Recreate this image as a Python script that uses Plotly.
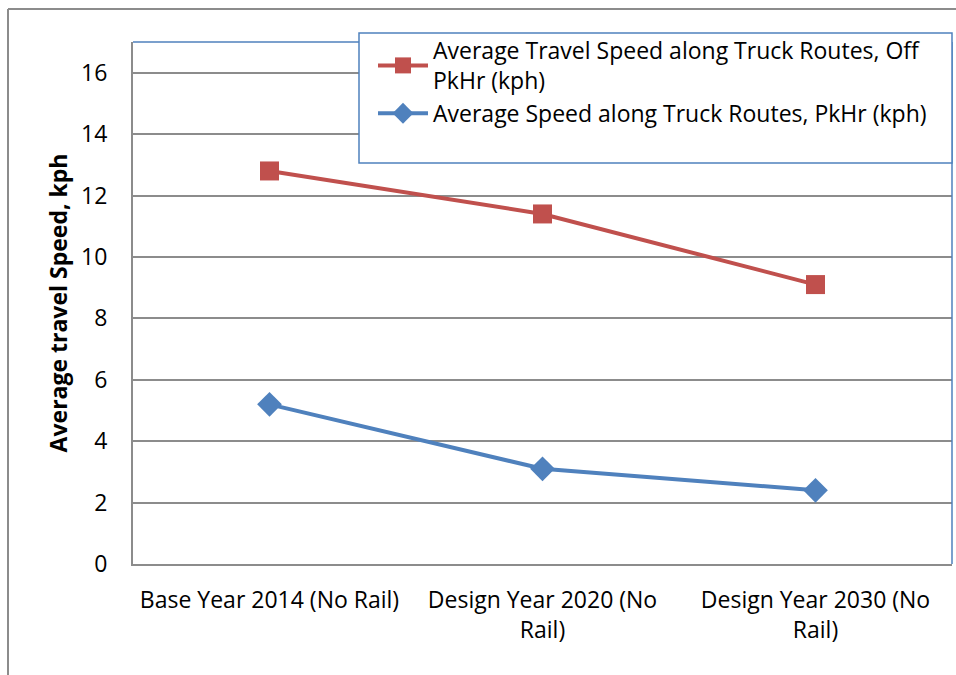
import plotly.graph_objects as go

categories = ["Base Year 2014 (No Rail)", "Design Year 2020 (No<br>Rail)", "Design Year 2030 (No<br>Rail)"]
offpeak_speed = [12.8, 11.4, 9.1]
peak_speed = [5.2, 3.1, 2.4]
y_ticks = [0, 2, 4, 6, 8, 10, 12, 14, 16]

W, H = 956, 675
L, R, T, B = 133, 4, 42, 111
pw, ph = W - L - R, H - T - B

def px_x(x):
    return (x - L) / pw

def px_y(y):
    return (H - B - y) / ph

FONT = "Open Sans"
FS = 23
RED = "#c0504d"
BLUE = "#4f81bd"

fig = go.Figure()
xs = [0, 1, 2]
fig.add_trace(go.Scatter(
    x=xs, y=offpeak_speed, mode="lines+markers",
    name="Average Travel Speed along Truck Routes, Off<br>PkHr (kph)",
    line=dict(color=RED, width=4),
    marker=dict(symbol="square", size=19, color=RED),
))
fig.add_trace(go.Scatter(
    x=xs, y=peak_speed, mode="lines+markers",
    name="Average Speed along Truck Routes, PkHr (kph)",
    line=dict(color=BLUE, width=4),
    marker=dict(symbol="diamond", size=19, color=BLUE),
))

shapes = [
    # outer frame
    dict(type="line", xref="paper", yref="paper", x0=px_x(8), x1=px_x(8), y0=px_y(H + 5), y1=px_y(9),
         line=dict(color="#8c8c8c", width=2)),
    dict(type="line", xref="paper", yref="paper", x0=px_x(8), x1=px_x(W + 5), y0=px_y(9), y1=px_y(9),
         line=dict(color="#8c8c8c", width=2)),
    # plot area border (top and right)
    dict(type="line", xref="paper", yref="paper", x0=0, x1=1, y0=1, y1=1,
         line=dict(color=BLUE, width=1.5)),
    dict(type="line", xref="paper", yref="paper", x0=1, x1=1, y0=0, y1=1,
         line=dict(color=BLUE, width=1.5)),
    # legend box
    dict(type="rect", xref="paper", yref="paper", x0=px_x(359), x1=px_x(952), y0=px_y(163), y1=px_y(33),
         fillcolor="white", line=dict(color=BLUE, width=1.5), layer="above"),
]

fig.update_layout(
    width=W, height=H,
    margin=dict(l=L, r=R, t=T, b=B, pad=0),
    paper_bgcolor="white", plot_bgcolor="white",
    font=dict(family=FONT, size=FS, color="black"),
    showlegend=True,
    legend=dict(
        x=px_x(373), y=px_y(29), xanchor="left", yanchor="top",
        bgcolor="rgba(0,0,0,0)", borderwidth=0,
        font=dict(family=FONT, size=FS, color="black"),
        itemwidth=50, tracegroupgap=0,
    ),
    xaxis=dict(
        range=[-0.5, 2.5], tickmode="array", tickvals=xs, ticktext=categories,
        showgrid=False, zeroline=False, showline=True, linecolor="#8c8c8c", linewidth=2,
        ticks="", tickfont=dict(family=FONT, size=FS), ticklabelstandoff=14,
    ),
    yaxis=dict(
        range=[0, 17.0], tickmode="array", tickvals=y_ticks,
        showgrid=True, gridcolor="#8c8c8c", gridwidth=1.5,
        zeroline=False, showline=True, linecolor="#8c8c8c", linewidth=2,
        ticks="", tickfont=dict(family=FONT, size=FS), ticklabelstandoff=19,
        title=dict(text="<b>Average travel Speed, kph</b>", font=dict(family=FONT, size=FS), standoff=7),
    ),
    shapes=shapes,
)

fig.write_html("out.html")
